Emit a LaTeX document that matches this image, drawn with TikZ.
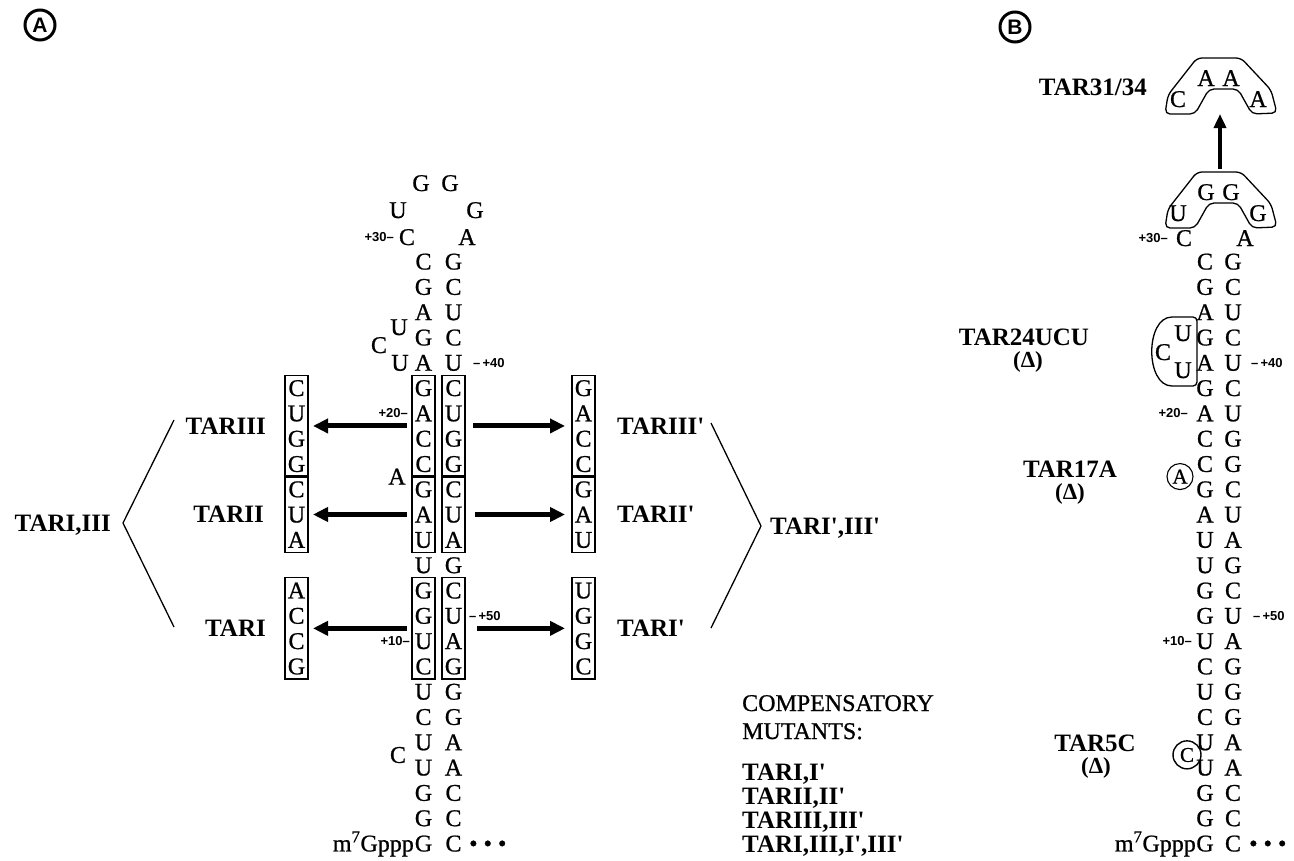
\documentclass[tikz,border=0pt]{standalone}
\usepackage{fontspec}
\setmainfont{Liberation Serif}
\newfontfamily\stemf[FakeBold=0.8]{Liberation Serif}
\newfontfamily\numfont{Liberation Sans}
\usetikzlibrary{arrows.meta}
\def\Y#1{(388+((#1)-9)*25.3)}
\newcommand{\pr}{\textquotesingle}
\begin{document}
\begin{tikzpicture}[x=1pt,y=-1pt,
  base/.style={font=\stemf\fontsize{24}{24}\selectfont, inner sep=0pt, text height=16pt, text depth=0pt},
  lab/.style={font=\bfseries\fontsize{25}{25}\selectfont, inner sep=0pt, text height=16.5pt, text depth=0pt},
  dlab/.style={font=\bfseries\fontsize{23}{23}\selectfont, inner sep=0pt, text height=15pt, text depth=4pt},
  num/.style={font=\numfont\bfseries\fontsize{13}{13}\selectfont, inner sep=0pt},
  mbox/.style={draw, line width=1.3pt},
  bigarrow/.style={line width=5pt, -{Triangle[length=15pt,width=14pt]}},
  brk/.style={line width=1.3pt},
  panel/.style={circle, draw, line width=3pt, inner sep=0pt, minimum size=30pt, font=\numfont\bfseries\fontsize{21}{21}\selectfont},
  ring/.style={circle, draw, line width=1.1pt, inner sep=0pt, font=\stemf\fontsize{21}{21}\selectfont, text height=14pt, text depth=0pt},
]
\useasboundingbox (0,0) rectangle (1294,860);

% ---------------- panel labels
\node[panel] (pA) at (40,25) {A};
\node[panel] (pB) at (1015,27) {B};

% ================= PANEL A =================
% loop
\node[base] (aG1) at (421,183) {G};
\node[base] (aG2) at (450,183) {G};
\node[base] (aU29) at (398,210) {U};
\node[base] (aG33) at (475,210) {G};
\node[base] (aC30) at (407,237) {C};
\node[base] (aA35) at (467,237) {A};
\node[num, anchor=east] (a30) at (394,237) {+30\textendash};
% stem
\foreach \l [count=\i from 4] in {C,G,A,G,A,G,A,C,C,G,A,U,U,G,G,U,C,U,C,U,U,G,G,G}
  \node[base] (aL\i) at (423.5,{\Y{\i}}) {\l};
\foreach \l [count=\i from 4] in {G,C,U,C,U,C,U,G,G,C,U,A,G,C,U,A,G,G,G,A,A,C,C,C}
  \node[base] (aR\i) at (453.5,{\Y{\i}}) {\l};
% bulges
\node[base] (aBU1) at (399,327) {U};
\node[base] (aBC1) at (379,345) {C};
\node[base] (aBU2) at (400,{\Y{8}}) {U};
\node[base] (aBA) at (397,{\Y{12.5}}) {A};
\node[base] (aBC2) at (398,{\Y{23.5}}) {C};
% position numbers
\node[num, anchor=west] (a40) at (473,{\Y{8}}) {\textendash\,+40};
\node[num, anchor=east] (a20) at (408,{\Y{10}}) {+20\textendash};
\node[num, anchor=west] (a50) at (469,{\Y{18}}) {\textendash\,+50};
\node[num, anchor=east] (a10) at (410,{\Y{19}}) {+10\textendash};
\node[base, anchor=east] (acap) at (414,{\Y{27}}) {m\textsuperscript{7}Gppp};
\node[base, anchor=west] (adots) at (469,{\Y{27}}) {• • •};
% stem boxes
\draw[mbox] (412,{\Y{9}-12.6}) rectangle (435,{\Y{12}+12.2});
\draw[mbox] (442,{\Y{9}-12.6}) rectangle (465,{\Y{12}+12.2});
\draw[mbox] (412,{\Y{13}-12.2}) rectangle (435,{\Y{15}+12.6});
\draw[mbox] (442,{\Y{13}-12.2}) rectangle (465,{\Y{15}+12.6});
\draw[mbox] (412,{\Y{17}-12.6}) rectangle (435,{\Y{20}+12.6});
\draw[mbox] (442,{\Y{17}-12.6}) rectangle (465,{\Y{20}+12.6});
% left mutant boxes
\foreach \l [count=\i from 9] in {C,U,G,G,C,U,A}
  \node[base] (lm\i) at (296.5,{\Y{\i}}) {\l};
\foreach \l [count=\i from 17] in {A,C,C,G}
  \node[base] (lm\i) at (296.5,{\Y{\i}}) {\l};
\draw[mbox] (285,{\Y{9}-12.6}) rectangle (308,{\Y{12}+12.2});
\draw[mbox] (285,{\Y{13}-12.2}) rectangle (308,{\Y{15}+12.6});
\draw[mbox] (285,{\Y{17}-12.6}) rectangle (308,{\Y{20}+12.6});
% right mutant boxes
\foreach \l [count=\i from 9] in {G,A,C,C,G,A,U}
  \node[base] (rm\i) at (583.5,{\Y{\i}}) {\l};
\foreach \l [count=\i from 17] in {U,G,G,C}
  \node[base] (rm\i) at (583.5,{\Y{\i}}) {\l};
\draw[mbox] (572,{\Y{9}-12.6}) rectangle (595,{\Y{12}+12.2});
\draw[mbox] (572,{\Y{13}-12.2}) rectangle (595,{\Y{15}+12.6});
\draw[mbox] (572,{\Y{17}-12.6}) rectangle (595,{\Y{20}+12.6});
% arrows
\coordinate (L3s) at (407,{\Y{10.5}}); \coordinate (L3e) at (313,{\Y{10.5}});
\coordinate (L2s) at (407,{\Y{14}});   \coordinate (L2e) at (313,{\Y{14}});
\coordinate (L1s) at (407,{\Y{18.5}}); \coordinate (L1e) at (313,{\Y{18.5}});
\coordinate (R3s) at (473,{\Y{10.5}}); \coordinate (R3e) at (565,{\Y{10.5}});
\coordinate (R2s) at (475,{\Y{14}});   \coordinate (R2e) at (565,{\Y{14}});
\coordinate (R1s) at (477,{\Y{18.5}}); \coordinate (R1e) at (565,{\Y{18.5}});
\foreach \s/\e in {L3s/L3e,L2s/L2e,L1s/L1e,R3s/R3e,R2s/R2e,R1s/R1e}
  \draw[bigarrow] (\s) -- (\e);
% mutant labels
\node[lab, anchor=east] (tIII) at (266,{\Y{10.5}}) {TARIII};
\node[lab, anchor=east] (tII) at (264,{\Y{14}}) {TARII};
\node[lab, anchor=east] (tI) at (266,{\Y{18.5}}) {TARI};
\node[lab, anchor=west] (tIIIp) at (617,{\Y{10.5}}) {TARIII\pr};
\node[lab, anchor=west] (tIIp) at (617,{\Y{14}}) {TARII\pr};
\node[lab, anchor=west] (tIp) at (617,{\Y{18.5}}) {TARI\pr};
% brackets
\coordinate (bLt) at (174,420); \coordinate (bLv) at (123,523); \coordinate (bLb) at (174,627);
\coordinate (bRt) at (711,423); \coordinate (bRv) at (761,526); \coordinate (bRb) at (711,628);
\draw[brk] (bLt) -- (bLv) -- (bLb);
\draw[brk] (bRt) -- (bRv) -- (bRb);
\node[lab, anchor=east] (tIIIc) at (111,523) {TARI,III};
\node[lab, anchor=west] (tIIIpc) at (770,526) {TARI\pr,III\pr};
% compensatory list
\node[base, anchor=west] (comp1) at (742,703) {COMPENSATORY};
\node[base, anchor=west] (comp2) at (742,731) {MUTANTS:};
\node[lab, anchor=west] (cm1) at (742,772) {TARI,I\pr};
\node[lab, anchor=west] (cm2) at (742,796) {TARII,II\pr};
\node[lab, anchor=west] (cm3) at (742,820) {TARIII,III\pr};
\node[lab, anchor=west] (cm4) at (742,844) {TARI,III,I\pr,III\pr};

% ================= PANEL B =================
% loop boxes
\foreach \t/\nm in {57/top,171/bot}{
  \draw[line width=1.3pt, rounded corners=5pt]
    (1165,\t+57) -- (1168,\t+38) -- (1197,\t+1) -- (1241,\t+1) -- (1271,\t+33)
    -- (1277,\t+56) -- (1252,\t+57) -- (1238,\t+32) -- (1209,\t+32) -- (1195,\t+57) -- cycle;
}
\node[base] (bC31) at (1178,99) {C};
\node[base] (bA32) at (1206,78) {A};
\node[base] (bA33) at (1231,78) {A};
\node[base] (bA34) at (1258,99) {A};
\node[base] (bU31) at (1178,213) {U};
\node[base] (bG32) at (1206,192) {G};
\node[base] (bG33) at (1231,192) {G};
\node[base] (bG34) at (1258,213) {G};
\coordinate (bArS) at (1220,169);
\coordinate (bArE) at (1220,114);
\draw[line width=4.5pt, -{Triangle[length=14pt,width=12pt]}] (bArS) -- (bArE);
\node[lab, anchor=east] (t3134) at (1147,87) {TAR31/34};
\node[base] (bC30) at (1184,238) {C};
\node[base] (bA35) at (1245,238) {A};
\node[num, anchor=east] (b30) at (1168,238) {+30\textendash};
% stem
\foreach \l [count=\i from 4] in {C,G,A,G,A,G,A,C,C,G,A,U,U,G,G,U,C,U,C,U,U,G,G,G}
  \node[base] (bL\i) at (1205,{\Y{\i}}) {\l};
\foreach \l [count=\i from 4] in {G,C,U,C,U,C,U,G,G,C,U,A,G,C,U,A,G,G,G,A,A,C,C,C}
  \node[base] (bR\i) at (1233,{\Y{\i}}) {\l};
\node[num, anchor=west] (b40) at (1251,{\Y{8}}) {\textendash\,+40};
\node[num, anchor=east] (b20) at (1188,{\Y{10}}) {+20\textendash};
\node[num, anchor=west] (b50) at (1253,{\Y{18}}) {\textendash\,+50};
\node[num, anchor=east] (b10) at (1192,{\Y{19}}) {+10\textendash};
\node[base, anchor=east] (bcap) at (1196,{\Y{27}}) {m\textsuperscript{7}Gppp};
\node[base, anchor=west] (bdots) at (1249,{\Y{27}}) {• • •};
% TAR24UCU insertion
\draw[line width=1.3pt, rounded corners=4pt] (1197,317) -- (1197,386) -- (1176,386)
  .. controls (1145,386) and (1145,317) .. (1176,317) -- cycle;
\node[base] (bIU1) at (1183,333) {U};
\node[base] (bIC) at (1163,352) {C};
\node[base] (bIU2) at (1183,370) {U};
\node[lab] (t24) at (1024,337) {TAR24UCU};
\node[dlab] (t24d) at (1028,362) {(Δ)};
% TAR17A
\node[ring, minimum size=26pt] (b17) at (1180,{\Y{12.5}}) {A};
\node[lab] (t17) at (1070,469) {TAR17A};
\node[dlab] (t17d) at (1070,494) {(Δ)};
% TAR5C
\node[ring, minimum size=28pt, line width=1.4pt] (b5) at (1187,{\Y{23.5}}) {C};
\node[lab] (t5) at (1095,743) {TAR5C};
\node[dlab] (t5d) at (1096,768) {(Δ)};
\end{tikzpicture}
\end{document}
